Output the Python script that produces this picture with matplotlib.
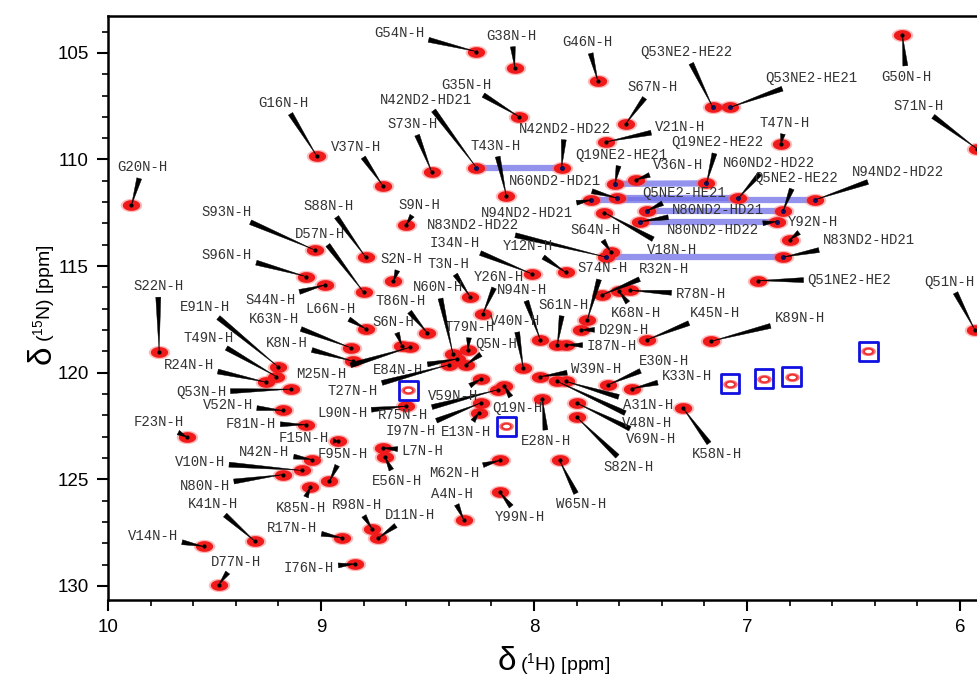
import numpy as np
import matplotlib
matplotlib.use("Agg")
import matplotlib.pyplot as plt
from matplotlib.ticker import MultipleLocator

# ---------------- data (ppm) ----------------
labels = ["G54N-H", "G38N-H", "G46N-H", "Q53NE2-HE22", "Q53NE2-HE21", "G50N-H", "S71N-H",
          "S67N-H", "V21N-H", "G35N-H", "N42ND2-HD21", "N42ND2-HD22", "T43N-H", "S73N-H",
          "V37N-H", "G16N-H", "G20N-H", "Q19NE2-HE21", "Q19NE2-HE22", "V36N-H", "T47N-H",
          "N60ND2-HD21", "N60ND2-HD22", "Q5NE2-HE21", "Q5NE2-HE22", "N94ND2-HD21",
          "N94ND2-HD22", "N80ND2-HD21", "N80ND2-HD22", "V18N-H", "S64N-H", "N83ND2-HD22",
          "N83ND2-HD21", "Y92N-H", "Q51NE2-HE2", "Q51N-H", "K89N-H", "K45N-H", "R78N-H",
          "K68N-H", "R32N-H", "S74N-H", "Y12N-H", "I34N-H", "T3N-H", "Y26N-H", "N94N-H",
          "S61N-H", "I87N-H", "D29N-H", "V40N-H", "T79N-H", "Q5N-H", "S9N-H", "N60N-H",
          "E84N-H", "T27N-H", "M25N-H", "S6N-H", "T86N-H", "L66N-H", "K63N-H", "K8N-H",
          "S44N-H", "S2N-H", "D57N-H", "S88N-H", "S93N-H", "S96N-H", "S22N-H", "E91N-H",
          "T49N-H", "R24N-H", "Q53N-H", "V52N-H", "L90N-H", "F81N-H", "F23N-H", "F15N-H",
          "N42N-H", "V10N-H", "N80N-H", "F95N-H", "K85N-H", "L7N-H", "E56N-H", "K41N-H",
          "V14N-H", "D77N-H", "R17N-H", "R98N-H", "D11N-H", "I76N-H", "R75N-H", "I97N-H",
          "V59N-H", "Q19N-H", "E13N-H", "E28N-H", "M62N-H", "A4N-H", "Y99N-H", "W65N-H",
          "S82N-H", "V69N-H", "V48N-H", "A31N-H", "W39N-H", "E30N-H", "K33N-H", "K58N-H"]

h_ppm = [8.27, 8.09, 7.70, 7.16, 7.08, 6.27, 5.92,
         7.57, 7.66, 8.07, 8.27, 7.87, 8.13, 8.48,
         8.71, 9.02, 9.89, 7.62, 7.19, 7.52, 6.84,
         7.61, 7.04, 7.47, 6.83, 7.73,
         6.68, 7.50, 6.86, 7.67, 7.64, 7.66,
         6.83, 6.80, 6.95, 5.93, 7.17, 7.47, 7.55,
         7.60, 7.68, 7.75, 7.85, 8.01, 8.30, 8.24, 7.97,
         7.89, 7.85, 7.78, 8.05, 8.31, 8.32, 8.60, 8.38,
         8.36, 8.40, 8.58, 8.62, 8.50, 8.79, 8.86, 8.85,
         8.98, 8.66, 8.80, 8.79, 9.03, 9.07, 9.76, 9.20,
         9.21, 9.26, 9.14, 9.18, 8.60, 9.07, 9.63, 8.92,
         9.04, 9.09, 9.18, 8.96, 9.05, 8.71, 8.70, 9.31,
         9.55, 9.48, 8.90, 8.76, 8.73, 8.84, 8.17, 8.25,
         8.25, 8.14, 8.26, 7.96, 8.16, 8.33, 8.16, 7.88,
         7.80, 7.80, 7.89, 7.85, 7.97, 7.65, 7.54, 7.30]

n_ppm = [104.94, 105.69, 106.33, 107.56, 107.56, 104.16, 109.50,
         108.34, 109.17, 107.99, 110.38, 110.38, 111.69, 110.59,
         111.22, 109.83, 112.15, 111.14, 111.12, 110.95, 109.27,
         111.81, 111.81, 112.41, 112.41, 111.89,
         111.89, 112.91, 112.91, 112.49, 114.32, 114.58,
         114.58, 113.77, 115.68, 117.99, 118.53, 118.46, 116.14,
         116.19, 116.35, 117.55, 115.30, 115.36, 116.43, 117.24, 118.46,
         118.69, 118.69, 117.99, 119.78, 118.92, 119.63, 113.06, 119.14,
         119.35, 119.63, 118.80, 118.74, 118.14, 117.94, 118.83, 119.46,
         115.88, 115.72, 116.22, 114.58, 114.24, 115.49, 119.03, 119.73,
         120.18, 120.44, 120.77, 121.77, 121.56, 122.44, 123.02, 123.22,
         124.08, 124.58, 124.78, 125.10, 125.36, 123.53, 123.95, 127.91,
         128.15, 129.94, 127.75, 127.33, 127.75, 128.97, 120.80, 121.42,
         120.30, 120.61, 121.89, 121.24, 124.11, 126.89, 125.61, 124.11,
         122.08, 121.42, 120.41, 120.41, 120.18, 120.56, 120.75, 121.66]

# side-chain NH2 pairs joined by a line
pairs = [("Q53NE2-HE22", "Q53NE2-HE21"), ("N42ND2-HD21", "N42ND2-HD22"),
         ("Q19NE2-HE21", "Q19NE2-HE22"), ("N60ND2-HD21", "N60ND2-HD22"),
         ("N94ND2-HD21", "N94ND2-HD22"), ("Q5NE2-HE21", "Q5NE2-HE22"),
         ("N80ND2-HD21", "N80ND2-HD22"), ("N83ND2-HD22", "N83ND2-HD21")]

# boxed (folded) peaks
fold_h = [8.59, 8.13, 7.08, 6.92, 6.79, 6.43]
fold_n = [120.83, 122.52, 120.52, 120.28, 120.18, 119.00]

# ---------------- layout: label offsets (pixels, relative to peak) ----------------
label_offsets = [(-77, 19), (-3, 32), (-10, 39), (-27, 55), (81, 29), (4, -42), (-58, 43),
                 (27, 37), (74, 15), (-53, 32), (-51, 68), (3, 39), (-11, 50), (-19, 48),
                 (-27, 39), (-33, 53), (11, 38), (6, 29), (11, 41), (42, 15), (4, 21),
                 (-62, 17), (31, 35), (37, 18), (13, 33), (-65, -13),
                 (83, 28), (78, 12), (-64, -8), (68, -37), (-15, 22), (-133, 32),
                 (86, 17), (23, 18), (92, 1), (-25, 48), (89, 23), (68, 27), (71, -4),
                 (17, -22), (62, 26), (15, 52), (-38, 26), (-77, 31), (-22, 33), (16, 37), (-18, 50),
                 (6, 40), (46, -1), (43, 0), (-8, 47), (2, 23), (30, 21), (13, 20), (-15, 67),
                 (-59, -11), (-96, -26), (-89, -27), (-9, 24), (-27, 32), (-35, 20), (-77, 29), (-66, 18),
                 (-55, -15), (8, 22), (-44, 58), (-37, 51), (-88, 38), (-79, 22), (-1, 66), (-73, 60),
                 (-68, 39), (-77, 17), (-90, -3), (-55, 5), (-64, -7), (-55, 1), (-28, 15), (-34, 3),
                 (-48, 8), (-102, 8), (-78, -11), (13, 27), (-9, -21), (40, -3), (12, -24), (-42, 37),
                 (-51, 10), (17, 23), (-50, 10), (-15, 24), (32, 23), (-46, -4), (-95, -25), (-70, -28),
                 (-28, -17), (13, -22), (-13, -19), (4, -42), (-46, -13), (-12, 26), (20, -25), (22, -44),
                 (52, -50), (75, -36), (90, -42), (82, -24), (56, 8), (56, 24), (55, 13), (34, -46)]

# ---------------- figure ----------------
plt.rcParams["mathtext.default"] = "regular"
W, H = 978, 676
fig = plt.figure(figsize=(W / 100, H / 100), dpi=100)
ax = fig.add_axes([108 / W, 1 - 600 / H, 1 - 108 / W, (600 - 16) / H])
ax.set_xlim(10, 5.915)
ax.set_ylim(130.66, 103.27)

for s in ["left", "bottom", "top"]:
    ax.spines[s].set_linewidth(1.8)
ax.spines["right"].set_visible(False)

ax.xaxis.set_major_locator(MultipleLocator(1))
ax.xaxis.set_minor_locator(MultipleLocator(0.2))
ax.yaxis.set_major_locator(MultipleLocator(5))
ax.yaxis.set_minor_locator(MultipleLocator(1))
ax.tick_params(which="major", direction="out", length=8, width=1.5, pad=6,
               labelsize=13.5)
ax.tick_params(which="minor", direction="out", length=4, width=1.2)
ax.xaxis.set_major_formatter(matplotlib.ticker.FuncFormatter(lambda v, p: f"{v:g}"))
ax.yaxis.set_major_formatter(matplotlib.ticker.FuncFormatter(lambda v, p: f"{v:g}"))
for lab in ax.get_xticklabels() + ax.get_yticklabels():
    lab.set_fontfamily("Liberation Sans")

idx = {n: i for i, n in enumerate(labels)}

# NH2 pair lines
for a, b in pairs:
    ia, ib = idx[a], idx[b]
    ax.plot([h_ppm[ia], h_ppm[ib]], [n_ppm[ia], n_ppm[ib]], color="#6f6fe8",
            alpha=0.75, lw=4.5, solid_capstyle="butt", zorder=2)

# labels with wedge leaders
for name, hx, ny, (dx, dy) in zip(labels, h_ppm, n_ppm, label_offsets):
    ax.annotate(name, xy=(hx, ny), xytext=(dx, dy), textcoords="offset pixels",
                ha="center", va="center", fontsize=10, family="Liberation Mono",
                color="#333333", zorder=4, annotation_clip=False,
                arrowprops=dict(arrowstyle="wedge,tail_width=0.36,shrink_factor=0.5",
                                fc="black", ec="black", lw=0.3,
                                shrinkA=1, shrinkB=0))

# elliptical peak marker
t = np.linspace(0, 2 * np.pi, 60)
ell = np.column_stack([np.cos(t), 0.62 * np.sin(t)])

ax.scatter(h_ppm, n_ppm, marker=ell, s=240, c="#ff6a6a", alpha=0.45,
           linewidths=0, zorder=3)
ax.scatter(h_ppm, n_ppm, marker=ell, s=155, c="#f01a1a", linewidths=0, zorder=3.1)
ax.scatter(h_ppm, n_ppm, marker="o", s=9, c="black", linewidths=0, zorder=3.2)

# dark blue centres on paired peaks
pair_members = [idx[n] for p in pairs for n in p]
ax.scatter([h_ppm[i] for i in pair_members], [n_ppm[i] for i in pair_members],
           marker="o", s=12, c="#101060", linewidths=0, zorder=3.3)

# folded peaks in blue boxes
ax.scatter(fold_h, fold_n, marker=ell, s=110, c="#ff7070", linewidths=0, zorder=3)
ax.scatter(fold_h, fold_n, marker=ell, s=40, facecolors="white", edgecolors="#e83030",
           linewidths=1.3, zorder=3.1)
ax.scatter(fold_h, fold_n, marker="s", s=180, facecolors="none", edgecolors="#1010e0",
           linewidths=2.0, zorder=3.2)

# axis labels
fig.text(507 / W, 1 - 662 / H, "δ", fontsize=24, family="Liberation Sans",
         ha="center", va="center")
fig.text(520 / W, 1 - 664 / H, r"($^{1}$H) [ppm]", fontsize=14, family="Liberation Sans",
         ha="left", va="center")
fig.text(42 / W, 1 - 355 / H, "δ", fontsize=24, family="Liberation Sans",
         ha="center", va="center", rotation=90)
fig.text(44 / W, 1 - 342 / H, r"($^{15}$N) [ppm]", fontsize=14, family="Liberation Sans",
         ha="left", va="center", rotation=90, rotation_mode="anchor")

fig.savefig("out.png", dpi=100)
